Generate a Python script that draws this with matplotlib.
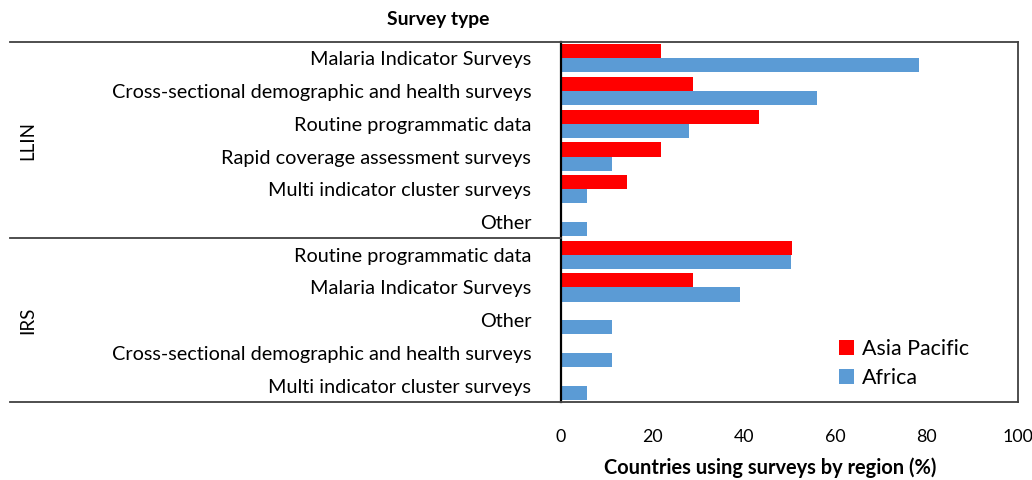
import matplotlib
matplotlib.use("Agg")
import matplotlib.pyplot as plt
from matplotlib.lines import Line2D
from matplotlib.transforms import blended_transform_factory

# DATA
groups = ["LLIN", "IRS"]
group_sizes = [6, 5]
categories = [
    "Malaria Indicator Surveys",
    "Cross-sectional demographic and health surveys",
    "Routine programmatic data",
    "Rapid coverage assessment surveys",
    "Multi indicator cluster surveys",
    "Other",
    "Routine programmatic data",
    "Malaria Indicator Surveys",
    "Other",
    "Cross-sectional demographic and health surveys",
    "Multi indicator cluster surveys",
]
asia_pacific = [21.8, 28.9, 43.4, 21.8, 14.5, 0, 50.5, 28.9, 0, 0, 0]
africa = [78.4, 56.0, 28.0, 11.1, 5.6, 5.6, 50.3, 39.2, 11.1, 11.1, 5.6]
xticks = [0, 20, 40, 60, 80, 100]

RED = "#FF0000"
BLUE = "#5B9BD5"
LINE = "#404040"

plt.rcParams["font.family"] = ["Lato", "DejaVu Sans"]

fig = plt.figure(figsize=(10.32, 4.8), dpi=100)
ax = fig.add_axes([561 / 1032, 1 - 402 / 480, 457 / 1032, 360 / 480])

y = list(range(len(categories)))
h = 0.43
ax.barh([v - h / 2 for v in y], asia_pacific, height=h, color=RED, label="Asia Pacific")
ax.barh([v + h / 2 for v in y], africa, height=h, color=BLUE, label="Africa")

ax.set_ylim(len(categories) - 0.5, -0.5)
ax.set_xlim(0, 100)
ax.set_xticks(xticks)
ax.set_xticklabels([str(t) for t in xticks], fontsize=12.8)
ax.tick_params(axis="x", length=0, pad=19.5)
ax.set_yticks(y)
ax.set_yticklabels(categories, fontsize=14.3)
ax.tick_params(axis="y", length=0, pad=21.5)

for side in ["top", "bottom", "right"]:
    ax.spines[side].set_color(LINE)
    ax.spines[side].set_linewidth(1.3)
ax.spines["left"].set_color("black")
ax.spines["left"].set_linewidth(1.6)

# lines that run out to the left edge (group separators)
tr = blended_transform_factory(fig.transFigure, ax.transData)
x0 = 10 / 1032
x1 = 561 / 1032
edges = [-0.5]
for s in group_sizes:
    edges.append(edges[-1] + s)
for e in edges:
    fig.add_artist(Line2D([x0, x1], [e, e], transform=tr, color=LINE, lw=1.3))

# group labels
for g, lo, hi in zip(groups, edges[:-1], edges[1:]):
    fig.text(28 / 1032, (lo + hi) / 2, g, transform=tr, rotation=90,
             ha="center", va="center", fontsize=13.5)

fig.text(438 / 1032, 1 - 20 / 480, "Survey type", ha="center", va="center",
         fontsize=13.9, fontweight="bold")
fig.text(770 / 1032, 1 - 468 / 480, "Countries using surveys by region (%)",
         ha="center", va="center", fontsize=14.4, fontweight="bold")

ax.legend(loc="upper left", bbox_to_anchor=(830 / 1032, 1 - 330 / 480),
          bbox_transform=fig.transFigure, frameon=False, fontsize=15.4,
          handlelength=0.7, handleheight=0.7, handletextpad=0.4,
          labelspacing=0.45, borderaxespad=0)

fig.savefig("out.png", dpi=100)
